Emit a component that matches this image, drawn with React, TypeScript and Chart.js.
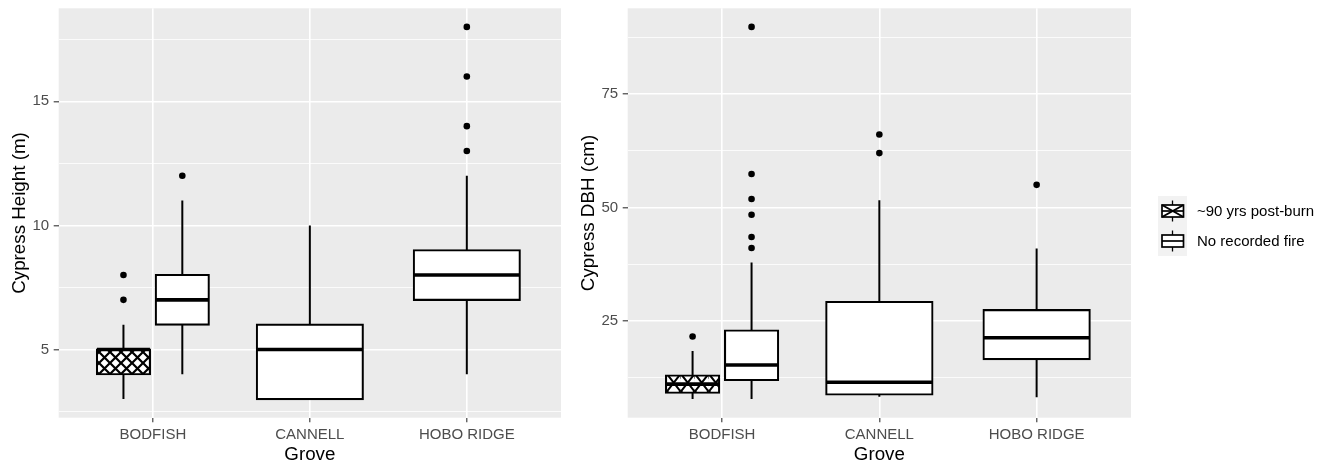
import React, { useEffect, useRef } from 'react';
import { Chart, registerables } from 'chart.js';

Chart.register(...registerables);

const FONT = "'Liberation Sans', Arial, Helvetica, sans-serif";
Chart.defaults.font.family = FONT;

// ---------------- data ----------------
const groves = ['BODFISH', 'CANNELL', 'HOBO RIDGE'];
const seriesLabels = ['~90 yrs post-burn', 'No recorded fire'];

// Panel 1: Cypress Height (m)
const heightBurnGroves = ['BODFISH'];
const heightBurnLow = [3];
const heightBurnQ1 = [4];
const heightBurnMedian = [5];
const heightBurnQ3 = [5];
const heightBurnHigh = [6];
const heightBurnOutliers = [[7, 8]];

const heightNoFireGroves = ['BODFISH', 'CANNELL', 'HOBO RIDGE'];
const heightNoFireLow = [4, 3, 4];
const heightNoFireQ1 = [6, 3, 7];
const heightNoFireMedian = [7, 5, 8];
const heightNoFireQ3 = [8, 6, 9];
const heightNoFireHigh = [11, 10, 12];
const heightNoFireOutliers = [[12], [], [13, 14, 16, 18]];

const heightMajorTicks = [5, 10, 15];
const heightMinorTicks = [2.5, 7.5, 12.5, 17.5];

// Panel 2: Cypress DBH (cm)
const dbhBurnGroves = ['BODFISH'];
const dbhBurnLow = [7.8];
const dbhBurnQ1 = [9.2];
const dbhBurnMedian = [11.1];
const dbhBurnQ3 = [13.0];
const dbhBurnHigh = [18.4];
const dbhBurnOutliers = [[21.6]];

const dbhNoFireGroves = ['BODFISH', 'CANNELL', 'HOBO RIDGE'];
const dbhNoFireLow = [7.8, 8.3, 8.2];
const dbhNoFireQ1 = [12.0, 8.8, 16.6];
const dbhNoFireMedian = [15.3, 11.5, 21.3];
const dbhNoFireQ3 = [22.9, 29.2, 27.4];
const dbhNoFireHigh = [37.9, 51.6, 41.0];
const dbhNoFireOutliers = [[41.1, 43.5, 48.4, 51.9, 57.4, 89.8], [62.0, 66.1], [55.0]];

const dbhMajorTicks = [25, 50, 75];
const dbhMinorTicks = [12.5, 37.5, 62.5, 87.5];

// ---------------- styles / layout ----------------
const PANEL_BG = '#EBEBEB';
const TICK_TEXT = '#4D4D4D';
const DODGE_WIDTH = 0.75;
const BOX_FRACTION = 0.9;
const X_EXPAND = 0.6;
const Y_EXPAND = 0.05;
const BOX_LINE = 2.1;
const MEDIAN_LINE = 3.6;
const WHISKER_LINE = 2.0;
const POINT_R = 3.3;
const PAGE_H = 464;
const PLOT_TOP = 8.3;
const PLOT_BOTTOM = 417.7;

type BoxSeries = {
  groves: string[];
  low: number[];
  q1: number[];
  median: number[];
  q3: number[];
  high: number[];
  outliers: number[][];
};

const heightSeries: BoxSeries[] = [
  { groves: heightBurnGroves, low: heightBurnLow, q1: heightBurnQ1, median: heightBurnMedian, q3: heightBurnQ3, high: heightBurnHigh, outliers: heightBurnOutliers },
  { groves: heightNoFireGroves, low: heightNoFireLow, q1: heightNoFireQ1, median: heightNoFireMedian, q3: heightNoFireQ3, high: heightNoFireHigh, outliers: heightNoFireOutliers },
];
const dbhSeries: BoxSeries[] = [
  { groves: dbhBurnGroves, low: dbhBurnLow, q1: dbhBurnQ1, median: dbhBurnMedian, q3: dbhBurnQ3, high: dbhBurnHigh, outliers: dbhBurnOutliers },
  { groves: dbhNoFireGroves, low: dbhNoFireLow, q1: dbhNoFireQ1, median: dbhNoFireMedian, q3: dbhNoFireQ3, high: dbhNoFireHigh, outliers: dbhNoFireOutliers },
];

type PanelDef = {
  yTitle: string;
  series: BoxSeries[];
  majorTicks: number[];
  minorTicks: number[];
  left: number;
  width: number;
  plotLeft: number;
  plotRight: number;
  hatch: [number, number, number];
};

const panels: PanelDef[] = [
  { yTitle: 'Cypress Height (m)', series: heightSeries, majorTicks: heightMajorTicks, minorTicks: heightMinorTicks, left: 0, width: 569, plotLeft: 58.7, plotRight: 561, hatch: [11, 11, 2.2] },
  { yTitle: 'Cypress DBH (cm)', series: dbhSeries, majorTicks: dbhMajorTicks, minorTicks: dbhMinorTicks, left: 569, width: 756, plotLeft: 627.7, plotRight: 1131, hatch: [13.5, 17.4, 2.0] },
];

function makeHatch(w: number, h: number, lw: number): CanvasPattern | string {
  const dpr = window.devicePixelRatio || 1;
  const c = document.createElement('canvas');
  c.width = Math.round(w * dpr);
  c.height = Math.round(h * dpr);
  const g = c.getContext('2d');
  if (!g) return '#fff';
  g.scale(dpr, dpr);
  g.fillStyle = '#fff';
  g.fillRect(0, 0, w, h);
  g.strokeStyle = '#000';
  g.lineWidth = lw;
  g.beginPath();
  g.moveTo(0, 0);
  g.lineTo(w, h);
  g.moveTo(w, 0);
  g.lineTo(0, h);
  g.stroke();
  const p = g.createPattern(c, 'repeat');
  if (!p) return '#fff';
  if (dpr !== 1 && typeof DOMMatrix !== 'undefined') p.setTransform(new DOMMatrix().scale(1 / dpr));
  return p;
}

const panelBg = {
  id: 'panelBg',
  beforeDraw(chart: any) {
    const { ctx, chartArea: a } = chart;
    ctx.save();
    ctx.fillStyle = PANEL_BG;
    ctx.fillRect(a.left, a.top, a.right - a.left, a.bottom - a.top);
    ctx.restore();
  },
};

function buildConfig(def: PanelDef, patterns: (CanvasPattern | string)[]): any {
  const { series } = def;
  type Item = { si: number; n: number; idx: number; x: number; w: number };
  const items: Item[] = [];
  groves.forEach((g, gi) => {
    const present = series
      .map((s, si) => ({ si, idx: s.groves.indexOf(g) }))
      .filter((o) => o.idx >= 0);
    const n = present.length;
    const slot = DODGE_WIDTH / n;
    present.forEach((o, k) =>
      items.push({ si: o.si, n, idx: o.idx, x: gi + 1 - DODGE_WIDTH / 2 + slot * (k + 0.5), w: slot * BOX_FRACTION })
    );
  });
  const xs = Array.from(new Set(items.map((i) => i.x))).sort((a, b) => a - b);
  let minGap = 1;
  for (let i = 1; i < xs.length; i++) minGap = Math.min(minGap, xs[i] - xs[i - 1]);

  const datasets: any[] = [];

  // whiskers
  const whiskers: any[] = [];
  items.forEach((i) => {
    const s = series[i.si];
    whiskers.push(
      { x: i.x, y: s.high[i.idx] }, { x: i.x, y: s.q3[i.idx] }, { x: i.x, y: null },
      { x: i.x, y: s.q1[i.idx] }, { x: i.x, y: s.low[i.idx] }, { x: i.x, y: null }
    );
  });
  datasets.push({
    type: 'line', label: 'whiskers', data: whiskers, borderColor: '#000', borderWidth: WHISKER_LINE,
    pointRadius: 0, spanGaps: false, fill: false, tension: 0, borderCapStyle: 'butt', order: 5,
  });

  // boxes (floating bars)
  const keys = Array.from(new Set(items.map((i) => `${i.si}|${i.n}`)));
  keys.forEach((key) => {
    const group = items.filter((i) => `${i.si}|${i.n}` === key);
    const s = series[group[0].si];
    datasets.push({
      type: 'bar',
      label: seriesLabels[group[0].si],
      data: group.map((i) => ({ x: i.x, y: [s.q1[i.idx], s.q3[i.idx]] })),
      backgroundColor: patterns[group[0].si],
      borderColor: '#000',
      borderWidth: BOX_LINE,
      borderSkipped: false,
      inflateAmount: BOX_LINE / 2,
      grouped: false,
      categoryPercentage: 1,
      barPercentage: group[0].w / minGap,
      order: 4,
    });
  });

  // medians
  const medians: any[] = [];
  items.forEach((i) => {
    const s = series[i.si];
    medians.push(
      { x: i.x - i.w / 2, y: s.median[i.idx] },
      { x: i.x + i.w / 2, y: s.median[i.idx] },
      { x: i.x, y: null }
    );
  });
  datasets.push({
    type: 'line', label: 'medians', data: medians, borderColor: '#000', borderWidth: MEDIAN_LINE,
    pointRadius: 0, spanGaps: false, fill: false, tension: 0, borderCapStyle: 'butt', order: 2,
  });

  // outliers
  const outliers: any[] = [];
  items.forEach((i) => {
    series[i.si].outliers[i.idx].forEach((v) => outliers.push({ x: i.x, y: v }));
  });
  datasets.push({
    type: 'scatter', label: 'outliers', data: outliers, backgroundColor: '#000', borderColor: '#000',
    borderWidth: 0, pointRadius: POINT_R, pointHoverRadius: POINT_R, order: 1,
  });

  // y range (ggplot-style 5% expansion)
  const vals = series.flatMap((s) => [...s.low, ...s.high, ...s.outliers.flat()]);
  const lo = Math.min(...vals);
  const hi = Math.max(...vals);
  const pad = (hi - lo) * Y_EXPAND;
  const isMajor = (v: number) => def.majorTicks.some((m) => Math.abs(m - v) < 1e-9);
  const yTicks = [...def.majorTicks, ...def.minorTicks].sort((a, b) => a - b);

  return {
    type: 'bar',
    data: { datasets },
    plugins: [panelBg],
    options: {
      animation: false,
      responsive: true,
      maintainAspectRatio: false,
      events: [],
      layout: { padding: { left: 0, top: PLOT_TOP, right: def.left + def.width - def.plotRight, bottom: 0 } },
      plugins: { legend: { display: false }, tooltip: { enabled: false }, title: { display: false } },
      scales: {
        x: {
          type: 'linear',
          min: 1 - X_EXPAND,
          max: groves.length + X_EXPAND,
          offset: false,
          afterBuildTicks: (s: any) => {
            s.ticks = groves.map((_, i) => ({ value: i + 1 }));
          },
          afterFit: (s: any) => {
            s.height = PAGE_H - PLOT_BOTTOM;
            s.paddingLeft = 0;
            s.paddingRight = 0;
          },
          ticks: {
            autoSkip: false,
            maxRotation: 0,
            minRotation: 0,
            color: TICK_TEXT,
            padding: 4,
            font: { size: 15, family: FONT },
            callback: (v: number) => groves[Math.round(v) - 1] ?? '',
          },
          grid: { offset: false, color: '#fff', lineWidth: 1.6, tickColor: '#333', tickLength: 4.5, tickWidth: 1.1, drawTicks: true },
          border: { display: false },
          title: { display: true, text: 'Grove', color: '#000', font: { size: 18.75, family: FONT }, padding: { top: 0, bottom: -2 } },
        },
        y: {
          type: 'linear',
          min: lo - pad,
          max: hi + pad,
          afterBuildTicks: (s: any) => {
            s.ticks = yTicks.map((v) => ({ value: v }));
          },
          afterFit: (s: any) => {
            s.width = def.plotLeft - def.left;
            s.paddingTop = 0;
            s.paddingBottom = 0;
          },
          ticks: {
            color: TICK_TEXT,
            padding: 4.5,
            font: { size: 15, family: FONT },
            callback: (v: number) => (isMajor(v) ? String(v) : ''),
          },
          grid: {
            color: '#fff',
            lineWidth: (c: any) => (c.tick && isMajor(c.tick.value) ? 1.6 : 0.8),
            tickColor: (c: any) => (c.tick && isMajor(c.tick.value) ? '#333' : 'rgba(0,0,0,0)'),
            tickLength: 5,
            tickWidth: 1.1,
            drawTicks: true,
          },
          border: { display: false },
          title: { display: true, text: def.yTitle, color: '#000', font: { size: 18.75, family: FONT }, padding: { top: 8.4, bottom: 0 } },
        },
      },
    },
  };
}

function Panel({ def }: { def: PanelDef }) {
  const ref = useRef<HTMLCanvasElement>(null);
  useEffect(() => {
    if (!ref.current) return;
    const patterns = [makeHatch(def.hatch[0], def.hatch[1], def.hatch[2]), '#fff'];
    const chart = new Chart(ref.current, buildConfig(def, patterns));
    return () => chart.destroy();
  }, [def]);
  return (
    <div style={{ position: 'absolute', left: def.left, top: 0, width: def.width, height: PAGE_H }}>
      <canvas ref={ref} />
    </div>
  );
}

function KeyIcon({ hatched }: { hatched: boolean }) {
  return (
    <svg width={29} height={30} style={{ display: 'block' }}>
      <rect x={0} y={0} width={29} height={30} fill="#F2F2F2" />
      <line x1={14.5} y1={4.5} x2={14.5} y2={9} stroke="#000" strokeWidth={1.3} />
      <line x1={14.5} y1={21} x2={14.5} y2={25.5} stroke="#000" strokeWidth={1.3} />
      <rect x={4} y={9} width={21.5} height={12} fill="#fff" stroke="#000" strokeWidth={1.7} />
      {hatched && (
        <g stroke="#000" strokeWidth={2}>
          <line x1={4} y1={9} x2={25.5} y2={21} />
          <line x1={25.5} y1={9} x2={4} y2={21} />
        </g>
      )}
      <line x1={4} y1={15} x2={25.5} y2={15} stroke="#000" strokeWidth={1.7} />
    </svg>
  );
}

function Legend() {
  return (
    <div style={{ position: 'absolute', left: 1158, top: 196, fontFamily: FONT, fontSize: 15, color: '#000' }}>
      {seriesLabels.map((label, i) => (
        <div key={label} style={{ display: 'flex', alignItems: 'center', height: 30 }}>
          <KeyIcon hatched={i === 0} />
          <span style={{ marginLeft: 10, whiteSpace: 'nowrap', lineHeight: '30px' }}>{label}</span>
        </div>
      ))}
    </div>
  );
}

export default function App() {
  return (
    <div style={{ position: 'fixed', left: 0, top: 0, width: 1325, height: PAGE_H, background: '#fff', overflow: 'hidden' }}>
      {panels.map((p) => (
        <Panel key={p.yTitle} def={p} />
      ))}
      <Legend />
    </div>
  );
}
